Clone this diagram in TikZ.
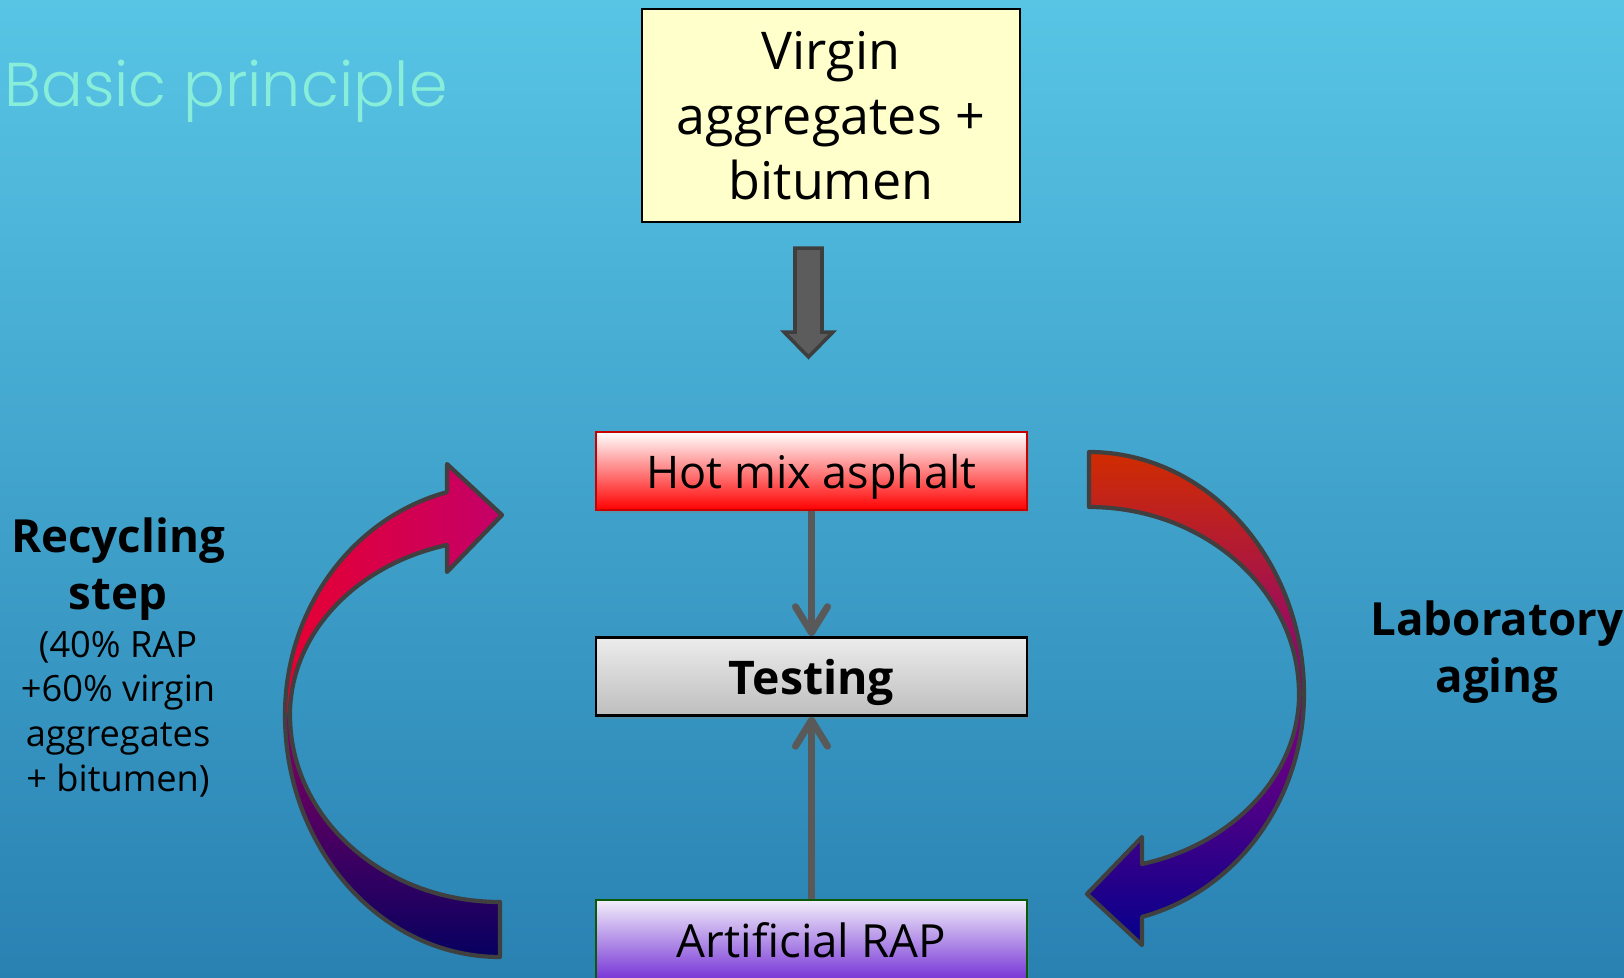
\documentclass[tikz,border=0pt]{standalone}
\usepackage{fontspec}
\setmainfont{Open Sans}
\newfontfamily\titlefont{Poppins Light}
\usepackage{tikz}
\usetikzlibrary{positioning,shadows,arrows.meta}

\definecolor{bgtop}{RGB}{88,197,229}
\definecolor{bgbottom}{RGB}{41,129,178}
\definecolor{titlecol}{RGB}{136,238,218}
\definecolor{virginfill}{RGB}{255,255,204}
\definecolor{hotedge}{RGB}{200,0,0}
\definecolor{testtop}{RGB}{236,236,236}
\definecolor{testbottom}{RGB}{190,190,190}
\definecolor{raptop}{RGB}{242,238,250}
\definecolor{rapmid}{RGB}{176,140,248}
\definecolor{rapbottom}{RGB}{118,52,214}
\definecolor{rapedge}{RGB}{10,90,10}
\definecolor{linkgray}{RGB}{89,89,89}
\definecolor{feedfill}{RGB}{92,92,92}
\definecolor{feededge}{RGB}{62,62,62}
\definecolor{curvedraw}{RGB}{64,64,64}
\definecolor{leftred}{RGB}{230,0,50}
\definecolor{leftmag}{RGB}{196,0,104}
\definecolor{leftpurple}{RGB}{138,0,98}
\definecolor{leftnavy}{RGB}{6,0,96}
\definecolor{rightorange}{RGB}{208,44,0}
\definecolor{rightred}{RGB}{200,0,8}
\definecolor{rightpurple}{RGB}{134,0,128}
\definecolor{rightnavy}{RGB}{4,0,140}

\begin{document}
\begin{tikzpicture}[>={Straight Barb[length=2.6mm,width=3.2mm,round]},
  every node/.style={font=\fontsize{13}{18.2}\selectfont}]
\tikzstyle{box}=[rectangle, draw, line width=0.7pt, align=center, inner sep=2pt, minimum width=4.31cm, minimum height=0.78cm]
\tikzstyle{shade box}=[box, text depth=0pt, drop shadow={shadow xshift=0.7pt, shadow yshift=-0.9pt, opacity=0.35}]
\tikzstyle{link}=[draw=linkgray, line width=2pt, ->]
\tikzstyle{curvedge}=[draw=curvedraw, line width=1.2pt, line join=round]
\tikzstyle{side text}=[align=center, text=black]

% background
\useasboundingbox (0,0) rectangle (16.24,-9.78);
\fill[top color=bgtop, bottom color=bgbottom] (0,0) rectangle (16.24,-9.78);

\node[anchor=base west, text=titlecol, font=\titlefont\fontsize{17.6}{20}\selectfont] (title) at (-0.08,-1.06) {Basic principle};

% boxes
\node[box, fill=virginfill, minimum width=3.78cm, minimum height=2.13cm, font=\fontsize{14.8}{18.4}\selectfont] (virgin) at (8.31,-1.155) {Virgin\\aggregates +\\bitumen};
\node[shade box, draw=hotedge, top color=white, middle color=red!35, bottom color=red, font=\fontsize{12.8}{16}\selectfont] (hot) at (8.115,-4.71) {Hot mix asphalt};
\node[shade box, top color=testtop, bottom color=testbottom, font=\bfseries\fontsize{13.2}{16}\selectfont, below=1.25cm of hot] (test) {Testing};
\node[shade box, draw=rapedge, top color=raptop, middle color=rapmid, bottom color=rapbottom, minimum height=0.8cm, below=1.82cm of test] (rap) {Artificial RAP};

\draw[link] (hot) -- (test);
\draw[link] (rap) -- (test);

% block arrow under the first box
\coordinate (feedtop) at (7.95,-2.48);
\draw[fill=feedfill, draw=feededge, line width=1pt] (feedtop) -- ++(0.27,0) -- ++(0,-0.84) -- ++(0.11,0)
  -- ++(-0.245,-0.25) -- ++(-0.245,0.25) -- ++(0.11,0) -- cycle;

% recycling arrow (left)
\draw[curvedge, top color=leftpurple, bottom color=leftnavy] (2.85,-7.15)
  arc[start angle=180, end angle=270, x radius=2.15, y radius=2.42] -- (5.00,-9.02)
  arc[start angle=270, end angle=180, x radius=2.10, y radius=1.87] -- cycle;
\draw[curvedge, left color=leftred, right color=leftmag] (2.85,-7.15)
  arc[start angle=180, end angle=104.3, x radius=2.15, y radius=2.30] -- (4.47,-4.64)
  -- (5.02,-5.15) -- (4.47,-5.72) -- (4.47,-5.45)
  arc[start angle=104.6, end angle=180, x radius=2.10, y radius=1.757] -- cycle;

% aging arrow (right)
\draw[curvedge, top color=rightorange, middle color=rightred, bottom color=rightpurple] (13.04,-6.94)
  arc[start angle=0, end angle=90, x radius=2.15, y radius=2.42] -- (10.89,-5.07)
  arc[start angle=90, end angle=0, x radius=2.10, y radius=1.87] -- cycle;
\draw[curvedge, top color=rightpurple, bottom color=rightnavy] (13.04,-6.94)
  arc[start angle=0, end angle=-75.7, x radius=2.15, y radius=2.30] -- (11.42,-9.45)
  -- (10.87,-8.94) -- (11.42,-8.37) -- (11.42,-8.64)
  arc[start angle=-75.4, end angle=0, x radius=2.10, y radius=1.757] -- cycle;

% side labels
\node[side text, font=\bfseries\fontsize{13}{16.2}\selectfont] (recyc) at (1.18,-5.69) {Recycling\\step};
\node[side text, font=\fontsize{10.3}{12.7}\selectfont] (recycnote) at (1.18,-7.14) {(40\% RAP\\+60\% virgin\\aggregates\\+ bitumen)};
\node[side text, font=\bfseries\fontsize{13}{16.4}\selectfont] (aging) at (14.97,-6.52) {Laboratory\\aging};
\end{tikzpicture}
\end{document}
